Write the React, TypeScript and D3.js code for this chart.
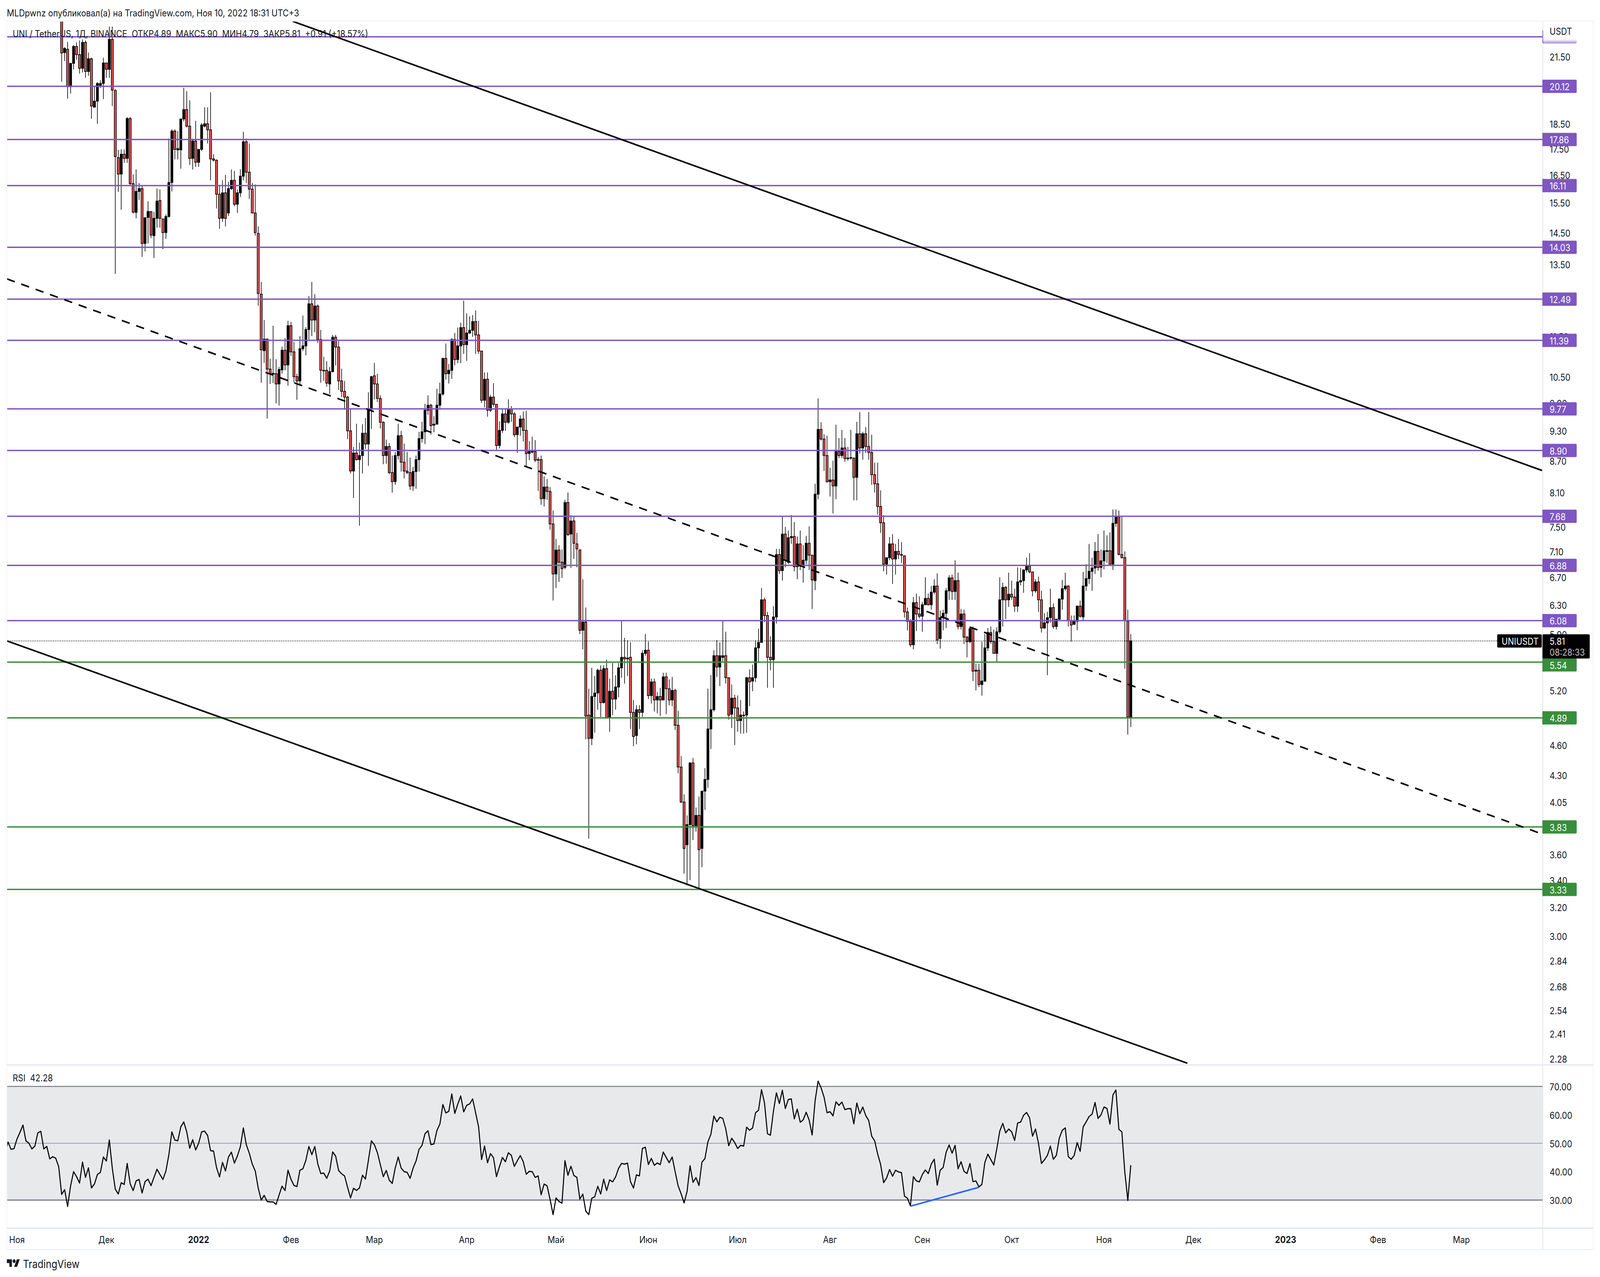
import React from "react";
import * as d3 from "d3";

// ---------- Candles: one value per day, index 0 = 16 Nov 2021, index 359 = 10 Nov 2022 ----------
const openP = [
24.5,21.70,21.86,20.10,21.18,22.0,21.6,20.95,22.2,20.8,
21.4,19.2,19.46,20.13,20.25,21.2,20.9,22.35,19.93,17.15,
16.53,17.28,17.12,18.72,16.18,15.17,15.9,16.0,14.15,15.0,
15.2,14.4,14.97,15.58,14.95,14.5,15.03,16.22,18.2,17.45,
17.45,18.7,19.1,18.4,17.12,17.8,16.97,17.47,18.4,18.5,
18.25,17.1,17.05,15.8,14.97,15.85,15.15,16.0,16.3,15.45,
15.85,16.45,17.77,16.6,15.98,15.15,14.47,12.63,11.13,11.42,
10.68,10.56,10.57,10.33,10.66,11.14,10.78,11.77,11.1,10.5,
10.4,11.18,11.25,11.67,12.36,11.92,12.3,11.41,10.65,10.65,
10.33,10.62,11.47,11.22,10.4,10.16,10.03,9.3,8.5,8.85,
8.72,8.8,9.25,9.03,9.76,10.52,10.33,10.0,9.48,8.8,
8.98,8.47,8.3,8.8,9.2,8.67,8.5,8.47,8.22,8.49,
8.72,9.14,9.28,9.74,9.85,9.42,9.44,9.85,10.1,10.94,
10.57,10.65,11.41,10.91,11.25,11.72,11.28,11.58,11.65,11.88,
11.53,11.12,9.96,10.44,9.74,10.03,9.87,9.0,9.31,9.66,
9.48,9.76,9.66,9.22,9.38,9.55,9.31,8.84,8.88,8.88,
8.71,8.72,7.99,8.2,8.12,7.55,6.75,7.12,6.93,6.85,
7.92,7.38,7.6,7.22,7.12,5.95,6.06,4.92,4.67,5.13,
5.17,5.44,5.06,5.46,4.9,5.19,5.1,5.24,5.47,5.6,
5.58,5.6,4.95,4.7,4.98,4.95,5.65,5.69,5.14,5.3,
5.09,5.13,5.09,5.36,5.22,5.09,5.2,4.81,4.38,4.05,
3.68,3.85,4.42,3.84,3.93,3.65,4.15,4.26,4.77,4.98,
5.62,5.48,5.6,5.62,5.35,4.93,5.11,5.0,4.86,4.92,
4.92,5.35,5.31,5.35,5.72,5.79,6.37,6.15,5.6,5.57,
6.13,7.05,6.8,7.38,6.93,7.32,7.34,6.86,7.22,6.87,
6.96,7.23,7.04,6.65,8.07,9.33,9.13,8.8,8.3,8.33,
8.22,8.88,8.8,8.95,8.74,8.75,8.75,8.38,9.24,8.95,
9.24,8.98,8.86,8.43,8.26,7.85,7.57,6.9,7.0,7.22,
6.98,7.1,7.04,7.03,6.2,6.07,5.76,6.33,6.17,6.14,
6.3,6.39,6.3,6.48,6.57,5.84,6.12,6.18,6.5,6.69,
6.49,6.65,6.0,6.17,5.86,5.8,5.97,5.43,5.44,5.27,
5.31,5.72,5.92,5.8,5.65,5.93,6.37,6.55,6.37,6.45,
6.41,6.28,6.63,6.65,6.81,6.87,6.78,6.5,6.63,6.37,
5.98,6.05,6.12,6.26,6.0,6.1,6.38,6.53,6.57,6.08,
6.03,6.07,6.28,6.13,6.57,6.68,6.79,6.84,7.1,6.85,
6.95,7.1,7.11,6.9,7.56,7.67,7.05,7.0,6.07,4.89];

const closeP = [
21.68,21.90,20.10,21.18,22.0,21.6,20.95,22.2,20.8,21.4,
19.25,19.46,20.25,20.25,21.2,20.9,22.35,19.95,17.19,16.53,
17.28,17.12,18.72,16.18,15.18,15.9,16.0,14.15,14.99,15.2,
14.42,14.97,15.56,14.97,14.5,15.03,16.22,18.2,17.47,17.5,
18.7,19.1,18.4,17.12,17.8,16.97,17.47,18.45,18.5,18.25,
17.1,17.05,15.8,14.97,15.85,14.97,16.0,16.3,15.45,15.85,
16.45,17.77,16.6,15.98,15.15,14.5,12.65,11.15,11.42,10.68,
10.57,10.58,10.33,10.67,11.14,10.78,11.77,11.1,10.5,10.4,
11.18,11.25,11.67,12.36,11.92,12.3,11.41,10.65,10.65,10.35,
10.62,11.47,11.22,10.4,10.16,10.03,9.3,8.5,8.85,8.72,
8.8,9.25,9.03,9.76,10.5,10.33,10.0,9.48,8.8,8.98,
8.47,8.3,8.8,9.2,8.67,8.5,8.47,8.22,8.49,8.72,
9.14,9.28,9.74,9.85,9.41,9.44,9.85,10.1,10.94,10.57,
10.65,11.41,10.91,11.25,11.72,11.28,11.58,11.65,11.88,11.53,
11.12,9.96,10.44,9.74,10.03,9.87,9.0,9.31,9.66,9.48,
9.76,9.66,9.22,9.38,9.55,9.31,8.84,8.88,8.88,8.71,
8.72,7.99,8.2,8.12,7.55,6.75,7.12,6.93,6.83,7.92,
7.37,7.6,7.23,7.14,5.95,6.06,4.91,4.67,5.13,5.17,
5.44,5.06,5.46,4.89,5.19,5.1,5.24,5.47,5.6,5.58,
5.59,4.95,4.69,4.98,4.95,5.65,5.69,5.14,5.3,5.09,
5.13,5.09,5.36,5.22,5.09,5.2,4.81,4.38,4.05,3.65,
3.85,4.42,3.84,3.93,3.64,4.15,4.26,4.77,4.98,5.62,
5.48,5.62,5.62,5.35,4.92,5.11,5.0,4.86,4.92,4.92,
5.35,5.3,5.35,5.72,5.79,6.37,6.15,5.6,5.57,6.13,
7.05,6.8,7.38,6.96,7.32,7.34,6.86,7.22,6.87,6.96,
7.23,7.04,6.66,8.07,9.33,9.13,8.8,8.3,8.33,8.22,
8.88,8.8,8.95,8.74,8.75,8.76,8.38,9.24,8.95,9.24,
8.98,8.86,8.43,8.26,7.85,7.57,6.9,7.0,7.22,6.98,
7.1,7.05,7.05,6.2,6.07,5.76,6.33,6.17,6.14,6.3,
6.39,6.3,6.48,6.57,5.82,6.12,6.18,6.5,6.69,6.49,
6.65,6.0,6.17,5.86,5.8,5.97,5.43,5.44,5.27,5.31,
5.72,5.92,5.8,5.65,5.93,6.37,6.55,6.37,6.45,6.41,
6.28,6.63,6.65,6.81,6.87,6.78,6.5,6.63,6.37,5.98,
6.05,6.12,6.26,6.0,6.1,6.38,6.53,6.57,6.08,6.02,
6.07,6.28,6.14,6.57,6.68,6.79,6.84,7.1,6.85,6.95,
7.11,7.11,6.9,7.56,7.67,7.05,7.0,6.08,4.90,5.81];

const highP = [
25,21.97,22.22,21.2,22.07,22.2,22.3,22.35,22.3,21.7,
21.45,20.14,20.3,20.4,21.45,21.2,23.0,23.0,20.0,17.45,
17.47,17.47,18.78,18.78,16.52,16.7,16.2,16.1,15.0,15.55,
15.2,15.19,16.0,15.97,14.95,15.1,17.9,18.27,18.27,18.2,
18.7,20.05,19.9,19.5,17.9,18.62,17.47,18.53,19.2,19.2,
19.85,17.28,17.08,16.1,16.3,16.5,16.25,16.7,16.65,15.97,
16.71,18.17,17.9,17.7,16.2,16.15,14.7,12.98,11.92,11.44,
10.93,11.77,10.92,10.73,11.23,11.45,11.9,11.87,11.35,10.57,
11.5,12.04,11.73,12.58,12.98,12.63,12.34,11.66,10.98,10.87,
10.73,11.53,11.53,11.37,10.69,10.4,10.06,9.76,8.97,9.45,
9.06,9.44,9.57,10.14,10.52,10.83,10.57,10.07,9.5,9.12,
9.05,8.8,8.87,9.45,9.3,9.04,8.87,8.76,8.58,8.8,
9.28,9.49,9.88,10.07,9.88,9.61,10.22,10.36,10.95,11.31,
10.8,11.45,11.58,11.72,11.85,12.45,12.1,12.02,12.05,12.18,
11.9,11.12,10.6,10.6,10.08,10.35,9.87,9.5,9.76,9.76,
9.98,9.83,9.7,9.38,9.63,9.71,9.73,9.09,9.18,9.11,
8.77,8.8,8.4,8.35,8.2,7.78,7.3,7.2,7.13,7.97,
8.1,7.7,7.67,7.4,7.14,6.67,6.26,5.22,5.47,5.37,
5.46,5.5,5.5,5.57,5.34,5.53,5.38,5.53,6.07,5.85,
5.82,5.79,5.09,5.03,5.03,5.69,5.9,5.8,5.34,5.34,
5.18,5.23,5.41,5.41,5.33,5.36,5.22,4.97,4.49,4.12,
3.93,4.43,4.47,4.0,4.1,4.15,4.37,5.22,5.38,5.69,
5.82,5.79,6.07,5.93,5.35,5.27,5.15,5.14,5.09,4.96,
5.36,5.45,5.51,5.82,5.97,6.54,6.4,6.2,5.87,6.28,
7.14,7.14,7.68,7.5,7.44,7.7,7.58,7.34,7.44,7.2,
7.35,7.51,7.04,8.26,10.0,9.48,9.23,9.2,8.56,8.7,
9.43,9.15,9.32,9.15,8.97,9.32,8.76,9.49,9.7,9.28,
9.38,9.7,9.22,8.66,8.66,8.14,7.7,7.0,7.33,7.38,
7.22,7.3,7.25,7.03,6.26,6.1,6.41,6.46,6.42,6.34,
6.7,6.46,6.57,6.67,6.76,6.22,6.23,6.54,6.73,6.74,
6.96,6.77,6.24,6.23,5.87,6.0,6.0,5.52,5.52,5.8,
5.9,5.98,6.0,5.96,5.99,6.7,6.62,6.57,6.77,6.65,
6.53,6.85,6.84,6.82,7.0,7.07,6.78,6.67,6.71,6.5,
6.18,6.2,6.53,6.32,6.1,6.39,6.66,6.77,6.58,6.15,
6.15,6.29,6.36,6.78,6.9,7.22,7.0,7.25,7.38,7.13,
7.44,7.36,7.41,7.8,7.8,7.78,7.68,7.1,6.23,5.90];

const lowP = [
20.33,21.29,19.57,19.8,20.9,21.35,20.7,20.75,20.5,20.6,
18.71,19.2,18.5,20.05,19.55,20.5,20.5,19.25,13.22,15.88,
15.26,16.95,16.95,16.1,15.13,14.97,15.6,13.73,13.9,14.15,
14.32,13.7,14.66,14.66,13.97,14.3,15.0,15.9,17.08,17.08,
16.73,18.6,18.35,16.87,16.7,16.8,16.8,17.4,18.35,17.7,
16.3,17.0,15.3,14.62,14.85,14.7,15.05,15.95,15.38,15.15,
15.7,16.3,16.2,15.63,15.15,14.4,12.31,10.36,10.83,9.56,
10.33,10.35,9.89,9.84,10.57,10.65,10.29,11.0,10.37,9.97,
10.3,11.12,11.01,11.41,11.5,11.6,11.32,10.36,10.4,10.27,
10.1,10.6,10.77,10.19,10.03,9.75,9.13,8.45,8.0,8.7,
7.52,8.45,8.93,8.6,9.34,9.98,9.92,9.35,8.63,8.64,
8.44,8.1,8.24,8.72,8.49,8.36,8.44,8.15,8.13,8.17,
8.49,9.06,9.03,9.64,9.22,9.27,9.44,9.75,10.06,10.43,
10.34,10.45,10.77,10.82,10.82,11.05,10.88,11.55,11.48,11.05,
11.05,9.9,9.8,9.6,9.7,9.82,8.9,8.94,9.26,9.3,
9.45,9.49,9.17,8.85,9.2,9.08,8.6,8.71,8.84,8.67,
8.13,7.88,7.85,7.97,7.45,6.36,6.54,6.63,6.69,6.82,
7.35,6.84,6.98,6.85,5.9,5.7,4.66,3.73,4.6,4.73,
4.98,4.9,5.05,4.88,4.74,4.92,4.98,5.12,5.35,5.28,
5.37,4.77,4.59,4.61,4.77,4.9,5.62,5.1,5.05,4.96,
4.94,4.91,5.09,4.93,5.03,5.02,4.76,4.32,4.04,3.45,
3.36,3.4,3.72,3.79,3.33,3.5,3.98,4.18,4.56,4.96,
5.36,5.25,5.55,5.28,4.87,4.78,4.6,4.74,4.72,4.72,
4.73,5.02,5.19,5.3,5.53,5.79,6.06,5.23,5.44,5.23,
6.04,6.75,6.65,6.85,6.9,7.22,6.79,6.67,6.81,6.62,
6.9,6.81,6.24,6.51,7.98,9.1,8.5,8.28,8.03,7.73,
7.98,8.75,8.75,8.68,8.7,8.72,7.96,7.96,8.84,8.72,
8.85,8.72,8.24,8.1,7.71,7.4,6.79,6.74,6.96,6.6,
6.74,6.98,6.92,6.12,5.95,5.73,5.7,5.94,6.11,5.93,
6.3,6.29,6.23,6.45,5.77,5.71,5.95,5.98,6.37,6.37,
6.37,5.96,5.96,5.77,5.6,5.78,5.31,5.2,5.24,5.14,
5.3,5.68,5.77,5.65,5.54,5.9,6.0,6.1,6.27,6.37,
6.2,6.2,6.58,6.47,6.77,6.76,6.42,6.47,6.2,5.92,
5.97,5.38,6.05,5.97,5.96,6.08,6.23,6.5,6.0,5.8,
6.02,5.95,6.12,6.07,6.5,6.6,6.5,6.75,6.8,6.7,
6.82,6.92,6.9,6.81,7.5,7.04,6.99,5.46,4.71,4.79];

// ---------- RSI ----------
const rsiStartA = -19;
const rsiA = [
47,50.4,47.85,48.1,51.5,53.85,56.4,50.85,50,48,49,53.65,54.2,48,48.9,44.5,45.25,44.75,41.75,
32,33.65,27.75,35,40,38.25,36,43.35,38,41.35,34.25,35.65,39,39.75,45.15,43.75,51.15,41.25,33.85,32.15,
36.1,35.5,42.9,35.75,33.35,36.75,37.25,32.5,36.5,37.35,35.1,38,40.85,39,37.25,40.25,46,54,51.1,50.9,
55.75,57.5,54,48.25,51.25,47.65,50,54,54.25,52.75,47.4,47.25,41.4,38.15,43.25,40.25,45.15,46.85,43,45.5,
48.75,55.4,49.5,46.5,42.65,40.25,34.25,30,31.65,29.5,29.35,29.35,28.5,31.75,34.9,33.35,40.5,37.35,35.15,34.75,
40.5,41,44,48.85,46,48.85,42.75,39.35,39.5,37.65,40.25,46.95,45.5,40.4,39.25,38.5,34.5,30.75,34.15,33.4,
34.25,38.75,37.4,44,50.85,49.5,46.75,42.5,38.25,40.4,37,35.85,41.25,45.15,41.25,40,39.75,37.65];
const rsiStartB = 118;
const rsiB = [
41.25,43.75,47.85,49.25,53.35,54.4,49.5,49.75,54.5,56.75,63.65,60.65,61.25,67.35,60.5,63.75,66.65,61.05,63.35,63.85,
65.6,60.75,55.75,44.25,49,43.15,46.35,44.9,38.25,41.75,45,43.5,46.65,45.75,41.85,43.85,45.65,43.5,39.1,40.1,
40,38,38.5,31.9,35.65,35,30.25,24.9,30.75,29.5,28.9,43.85,38.75,41.9,38.65,38,30.35,32.1,26.1,24.9,
30.65,31.15,34.85,32.15,37.35,33.35,37.1,36.4,38.15,41.15,42.9,42.65,43,36.5,34.25,38.85,38.5,48.15,48.6,42.5,
44.65,42.25,43.05,42.5,46.9,45,43.15,45.15,40,35,32.25,29,33,42.1,36.25,37.9,35.1,43.35,44.6,50.5,
53.15,59.6,57.5,59.15,58.75,55,49.15,51.75,50.25,48.15,49.25,49,55.65,54.6,55.35,60.75,61.6,68.85,64.25,53.35,
52.85,61.25,67.75,64,68.65,62.25,65.4,65.6,58.6,62,57.4,58.25,60.9,58.15,52.9,65,71.85,69.5];
const rsiStartC = 256;
const rsiC = [
66.25,60.75,61.1,59.65,64.6,63.35,64.5,61.85,62.15,62.2,56.85,64.15,60.4,62.75,59.75,58,52.5,50.85,46.25,42.5,
36.15,37.75,40.75,38.4,40.5,39.9,39.65,31.4,30.65,28,38.25,36.75,36.4,39,40.6,39.35,42.65,44.4,35.25,40.5,
41.5,46.85,49.4,46.5,49.25,41,43.5,40.1,39.35,42.85,36.5,36.75,34.65,35.5,43.25,46.15,44.25,42.35,48,54.25,
57,53.65,55,54,51,57.1,57.45,59.85,60.85,59,52.5,55,50,42.9,44.15,45.75,49,44.35,45.75,51.85,
54.6,55.4,45.35,44.35,45.75,50.25,47.15,55.75,57.5,59.4,60.25,64.35,58.75,60,62.75,62.25,56.75,67,68.75,54.9,
54,39.75,29.85,42.28];
const rsiDivergence = [{ day: 285, value: 27.85 }, { day: 308, value: 34.5 }];
const rsiTicks = [70, 60, 50, 40, 30];

// ---------- Levels, ticks, labels ----------
const purpleLevels = [20.12, 17.86, 16.11, 14.03, 12.49, 11.39, 9.77, 8.9, 7.68, 6.88, 6.08];
const topLevel = 22.48;
const greenLevels = [5.54, 4.89, 3.83, 3.33];
const priceTicks = [21.5, 18.5, 17.5, 16.5, 15.5, 14.5, 13.5, 11.5, 10.5, 9.9, 9.3, 8.7, 8.1, 7.5, 7.1, 6.7, 6.3, 5.9, 5.2, 4.6, 4.3, 4.05, 3.6, 3.4, 3.2, 3.0, 2.84, 2.68, 2.54, 2.41, 2.28];
const lastPrice = 5.81;
const monthLabels: [string, number, number, boolean][] = [
  ["Ноя", 2021, 10, false], ["Дек", 2021, 11, false], ["2022", 2022, 0, true], ["Фев", 2022, 1, false],
  ["Мар", 2022, 2, false], ["Апр", 2022, 3, false], ["Май", 2022, 4, false], ["Июн", 2022, 5, false],
  ["Июл", 2022, 6, false], ["Авг", 2022, 7, false], ["Сен", 2022, 8, false], ["Окт", 2022, 9, false],
  ["Ноя", 2022, 10, false], ["Дек", 2022, 11, false], ["2023", 2023, 0, true], ["Фев", 2023, 1, false], ["Мар", 2023, 2, false],
];
const upperTrend = [{ day: 77.6, price: 23.27 }, { day: 497.1, price: 8.51 }];
const midTrend = [{ day: -18.4, price: 13.07 }, { day: 497.1, price: 3.77 }];
const lowerTrend = [{ day: -18.4, price: 5.81 }, { day: 378, price: 2.256 }];

const titleText = "MLDpwnz опубликовал(а) на TradingView.com, Ноя 10, 2022 18:31 UTC+3";
const legendText = "UNI / TetherUS, 1Д, BINANCE  ОТКР4.89  МАКС5.90  МИН4.79  ЗАКР5.81  +0.91 (+18.57%)";

// ---------- Layout ----------
const W = 4670, H = 3270;
const L = 20, AX = 4503, R = 4650, TOP = 54, PANE = 2727, TIME = 3145, BOT = 3200;
const TICKX = 4523;
const FONT = "Inter, 'Noto Sans', sans-serif";
const PURPLE = "#7e57c2", GREEN = "#388e3c", RED = "#ef5350", INK = "#131722";

const x = d3.scaleLinear().domain([0, 359]).range([180, 3300.5]);
const y = d3.scaleLog().domain([20.12, 3.33]).range([221, 2277.5]);
const yR = d3.scaleLinear().domain([70, 30]).range([2782, 3073]);
const lastDay = Date.UTC(2022, 10, 10);
const dayOf = (yr: number, mo: number) => 359 - (lastDay - Date.UTC(yr, mo, 1)) / 86400000;

const trendPath = d3.line<{ day: number; price: number }>().x(d => x(d.day)).y(d => y(d.price));
const rsiPoints = [
  ...rsiA.map((v, i) => ({ day: rsiStartA + i, value: v })),
  ...rsiB.map((v, i) => ({ day: rsiStartB + i, value: v })),
  ...rsiC.map((v, i) => ({ day: rsiStartC + i, value: v })),
];
const rsiPath = d3.line<{ day: number; value: number }>().x(d => x(d.day)).y(d => yR(d.value));

function Label({ price, color, shift = 0 }: { price: number; color: string; shift?: number }) {
  const cy = y(price) + shift;
  return (
    <g>
      <rect x={AX - 1} y={cy - 17} width={100} height={34} rx={3} fill={color} />
      <rect x={AX - 1} y={cy - 17} width={8} height={34} fill={color} />
      <text x={TICKX} y={cy + 1} fontSize={24} fill="#fff" dominantBaseline="central">{price.toFixed(2)}</text>
    </g>
  );
}

export default function App() {
  return (
    <svg
      viewBox={`0 0 ${W} ${H}`}
      preserveAspectRatio="none"
      style={{ position: "absolute", left: 0, top: 0, width: "100vw", height: "100vh", display: "block", background: "#fff" }}
      fontFamily={FONT}
    >
      <defs>
        <clipPath id="pane"><rect x={L} y={TOP} width={AX - L} height={PANE - TOP} /></clipPath>
        <clipPath id="rsi"><rect x={L} y={PANE} width={AX - L} height={TIME - PANE} /></clipPath>
        <linearGradient id="fade" x1="0" y1="0" x2="0" y2="1">
          <stop offset="0" stopColor="#fff" />
          <stop offset="1" stopColor="#fff" stopOpacity="0.3" />
        </linearGradient>
      </defs>
      <rect width={W} height={H} fill="#fff" />

      <text x={20} y={33} fontSize={24} fill={INK} dominantBaseline="central">{titleText}</text>

      {/* RSI band */}
      <rect x={L} y={yR(70)} width={AX - L} height={yR(30) - yR(70)} fill="#e8e9eb" />

      {/* candles */}
      <g clipPath="url(#pane)">
        {openP.map((o, i) => {
          const c = closeP[i];
          const down = c < o;
          const yT = y(Math.max(o, c));
          const yB = y(Math.min(o, c));
          return (
            <g key={i}>
              <line x1={x(i)} x2={x(i)} y1={y(highP[i])} y2={y(lowP[i])} stroke="#000" strokeWidth={1.8} />
              <rect x={x(i) - 3} y={yT} width={6} height={Math.max(yB - yT, 1.5)} fill={down ? RED : "#000"} stroke="#000" strokeWidth={1.8} />
            </g>
          );
        })}
      </g>

      {/* price levels */}
      {[topLevel, ...purpleLevels].map(p => (
        <line key={p} x1={L} x2={AX} y1={y(p)} y2={y(p)} stroke={PURPLE} strokeWidth={3.5} />
      ))}
      {greenLevels.map(p => (
        <line key={p} x1={L} x2={AX} y1={y(p)} y2={y(p)} stroke={GREEN} strokeWidth={3.5} />
      ))}
      <line x1={L} x2={4370} y1={y(lastPrice)} y2={y(lastPrice)} stroke="#000" strokeWidth={2} strokeDasharray="2 3.2" />

      {/* trend lines */}
      <g clipPath="url(#pane)" fill="none" stroke="#000" strokeWidth={4}>
        <path d={trendPath(upperTrend) ?? ""} />
        <path d={trendPath(lowerTrend) ?? ""} />
        <path d={trendPath(midTrend) ?? ""} strokeDasharray="24 20" />
      </g>

      {/* RSI */}
      <g clipPath="url(#rsi)">
        <line x1={L} x2={AX} y1={yR(70)} y2={yR(70)} stroke="#787b86" strokeWidth={2.5} />
        <line x1={L} x2={AX} y1={yR(50)} y2={yR(50)} stroke="#a9abb2" strokeWidth={2.5} />
        <line x1={L} x2={AX} y1={yR(30)} y2={yR(30)} stroke="#787b86" strokeWidth={3} />
        <path d={rsiPath(rsiPoints) ?? ""} fill="none" stroke="#000" strokeWidth={3} strokeLinejoin="round" />
        <path d={rsiPath(rsiDivergence) ?? ""} fill="none" stroke="#2962ff" strokeWidth={4} />
      </g>

      {/* frame */}
      <g fill="none">
        <line x1={L} x2={R} y1={TOP} y2={TOP} stroke="#f0f3f6" strokeWidth={2.5} />
        <line x1={L} x2={L} y1={TOP} y2={BOT} stroke="#f0f3f6" strokeWidth={2} />
        <line x1={AX} x2={AX} y1={TOP} y2={BOT} stroke="#e0e3e6" strokeWidth={2} />
        <line x1={R} x2={R} y1={TOP} y2={BOT} stroke="#f0f3fa" strokeWidth={2.5} />
        <line x1={L} x2={R} y1={PANE} y2={PANE} stroke="#e0e3eb" strokeWidth={2.5} />
        <line x1={L} x2={R} y1={TIME} y2={TIME} stroke="#e0e3e6" strokeWidth={3} />
        <line x1={L} x2={R} y1={BOT} y2={BOT} stroke="#f0f3f6" strokeWidth={3} />
      </g>

      {/* price axis */}
      <g fontSize={24} fill={INK}>
        {priceTicks.map(t => (
          <text key={t} x={TICKX} y={y(t) + 1} dominantBaseline="central">{t.toFixed(2)}</text>
        ))}
      </g>
      {purpleLevels.map(p => <Label key={p} price={p} color={PURPLE} />)}
      {greenLevels.map(p => <Label key={p} price={p} color={GREEN} shift={p === 5.54 ? 7 : 0} />)}

      {/* clipped top label behind the currency title */}
      <rect x={AX - 1} y={y(topLevel) - 17} width={100} height={34} rx={3} fill={PURPLE} />
      <rect x={AX + 1} y={y(topLevel) - 18} width={100} height={25} fill="#fff" />
      <rect x={AX + 1} y={y(topLevel) + 7} width={100} height={10} fill="url(#fade)" />
      <text x={TICKX} y={80} fontSize={24} fill={INK} dominantBaseline="central">USDT</text>

      {/* last price */}
      <rect x={4370} y={y(lastPrice) - 17} width={130} height={34} rx={3} fill="#000" />
      <rect x={AX - 1} y={y(lastPrice) - 17} width={138} height={62} rx={3} fill="#000" />
      <text x={4383} y={y(lastPrice) + 1} fontSize={24} fill="#fff" dominantBaseline="central">UNIUSDT</text>
      <text x={TICKX} y={y(lastPrice) + 1} fontSize={24} fill="#fff" dominantBaseline="central">{lastPrice.toFixed(2)}</text>
      <text x={TICKX} y={y(lastPrice) + 29} fontSize={24} fill="#c3c3c3" dominantBaseline="central">08:28:33</text>

      {/* legends */}
      <text x={37} y={86} fontSize={24} fill={INK} dominantBaseline="central" xmlSpace="preserve">{legendText}</text>
      <text x={37} y={2760} fontSize={24} fill={INK} dominantBaseline="central" xmlSpace="preserve">{"RSI  42.28"}</text>

      {/* RSI axis */}
      <g fontSize={24} fill={INK}>
        {rsiTicks.map(t => (
          <text key={t} x={TICKX} y={yR(t) + 1} dominantBaseline="central">{t.toFixed(2)}</text>
        ))}
      </g>

      {/* time axis */}
      <g fontSize={24} fill={INK} textAnchor="middle">
        {monthLabels.map(([label, yr, mo, bold]) => (
          <text key={label + yr} x={x(dayOf(yr, mo))} y={3174} dominantBaseline="central" fontWeight={bold ? 700 : 400}>{label}</text>
        ))}
      </g>

      {/* logo */}
      <g transform="translate(20,3217.5) scale(1.06,1.2)" fill="#131722">
        <path d="M14 6H0v8h7v8h7V6Zm14 16h-8l7.5-16h8L28 22Zm-8-8a4 4 0 1 0 0-8 4 4 0 0 0 0 8Z" />
      </g>
      <text x={67} y={3236} fontSize={28} fill={INK} dominantBaseline="central">TradingView</text>
    </svg>
  );
}
